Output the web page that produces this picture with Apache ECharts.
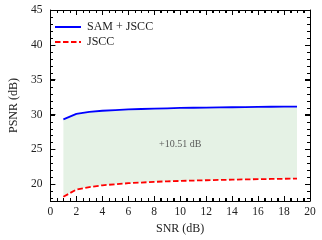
<!DOCTYPE html>
<html><head><meta charset="utf-8">
<script src="https://cdn.jsdelivr.net/npm/echarts@6/dist/echarts.min.js"></script>
<style>html,body{margin:0;padding:0;background:#fff}#c{width:322px;height:240px}</style>
</head><body><div id="c"></div>
<script>
const snr = [1,2,3,4,5,6,7,8,9,10,11,12,13,14,15,16,17,18,19];
const samJscc = [29.3,30.1,30.4,30.55,30.65,30.75,30.8,30.85,30.9,30.95,30.98,31.0,31.03,31.05,31.07,31.1,31.12,31.14,31.15];
const jscc = [18.2,19.25,19.6,19.85,20.0,20.15,20.25,20.35,20.42,20.48,20.53,20.58,20.62,20.66,20.7,20.73,20.76,20.79,20.82];
const seriesNames = ['SAM + JSCC','JSCC'];
const xMajorTicks = [0,2,4,6,8,10,12,14,16,18,20];
const xMinorTicks = [0.5,1,1.5,2.5,3,3.5,4.5,5,5.5,6.5,7,7.5,8.5,9,9.5,10.5,11,11.5,12.5,13,13.5,14.5,15,15.5,16.5,17,17.5,18.5,19,19.5];
const yMajorTicks = [20,25,30,35,40,45];
const yMinorTicks = [18,19,21,22,23,24,26,27,28,29,31,32,33,34,36,37,38,39,41,42,43,44];
const annotationText = '+10.51 dB';
const annotationX = 10;
const xRange = [0, 20];
const yRange = [17.6, 45];

const FONT = 'Liberation Serif';
const ink = '#222';
const samPts = snr.map((x,i)=>[x,samJscc[i]]);
const jsccPts = snr.map((x,i)=>[x,jscc[i]]);
const ai = snr.indexOf(annotationX);
const annY = (samJscc[ai]+jscc[ai])/2;

function xAx(pos, labels){
  return {type:'value', position:pos, min:xRange[0], max:xRange[1], interval:2,
    axisLine:{show:true, onZero:false, lineStyle:{color:'#000', width:1}},
    splitLine:{show:false},
    axisTick:{show:true, inside:true, length:5, lineStyle:{color:'#000', width:1}},
    minorTick:{show:true, splitNumber:4, length:3, lineStyle:{color:'#000', width:1}},
    axisLabel:{show:labels, fontFamily:FONT, fontSize:11.5, color:ink, margin:5},
    name: labels ? 'SNR (dB)' : '', nameLocation:'middle', nameGap:20,
    nameTextStyle:{fontFamily:FONT, fontSize:12, color:ink}};
}
function yAx(pos, labels){
  return {type:'value', position:pos, min:yRange[0], max:yRange[1],
    axisLine:{show:true, onZero:false, lineStyle:{color:'#000', width:1}},
    splitLine:{show:false},
    axisTick:{show:true, inside:true, length:5, customValues:yMajorTicks, lineStyle:{color:'#000', width:1}},
    minorTick:{show:false},
    axisLabel:{show:labels, customValues:yMajorTicks, fontFamily:FONT, fontSize:11.5, color:ink, margin:8},
    name: labels ? 'PSNR (dB)' : '', nameLocation:'middle', nameGap:27,
    nameTextStyle:{fontFamily:FONT, fontSize:12, color:ink}};
}
function tickLines(api){
  const ch = [];
  const vert = (p, dy) => { const x = Math.round(p[0]) + 0.5;
    ch.push({type:'line', shape:{x1:x, y1:Math.round(p[1]), x2:x, y2:Math.round(p[1])+dy}, style:{stroke:'#000', lineWidth:1}}); };
  const hor = (p, dx) => { const y = Math.round(p[1]) + 0.5;
    ch.push({type:'line', shape:{x1:Math.round(p[0]), y1:y, x2:Math.round(p[0])+dx, y2:y}, style:{stroke:'#000', lineWidth:1}}); };
  xMajorTicks.forEach(v=>{ vert(api.coord([v, yRange[0]]), -5); vert(api.coord([v, yRange[1]]), 5); });
  xMinorTicks.forEach(v=>{ vert(api.coord([v, yRange[0]]), -3); vert(api.coord([v, yRange[1]]), 3); });
  yMajorTicks.forEach(v=>{ hor(api.coord([xRange[0], v]), 5); hor(api.coord([xRange[1], v]), -5); });
  yMinorTicks.forEach(v=>{ hor(api.coord([xRange[0], v]), 3); hor(api.coord([xRange[1], v]), -3); });
  return {type:'group', children:ch};
}
const chart = echarts.init(document.getElementById('c'), null, {renderer:'canvas'});
chart.setOption({
  animation:false,
  grid:{left:39, right:12, top:10, bottom:39},
  xAxis:[xAx('bottom', true), xAx('top', false)],
  yAxis:[yAx('left', true), yAx('right', false)],
  legend:{show:true, orient:'vertical', left:49, top:16, itemWidth:26, itemHeight:14, itemGap:3,
    data:seriesNames, itemStyle:{opacity:0, color:'transparent', borderWidth:0},
    textStyle:{fontFamily:FONT, fontSize:12, color:ink, padding:[0,0,0,1]}},
  series:[
    {name:'band', type:'custom', data:samPts, z:1, silent:true, clip:true,
      renderItem:function(params, api){
        if (params.dataIndex !== 0) return null;
        const pts = samPts.map(p=>api.coord(p)).concat(jsccPts.slice().reverse().map(p=>api.coord(p)));
        return {type:'polygon', shape:{points:pts}, style:{fill:'rgba(0,128,0,0.1)', stroke:'none'}};
      }},
    {name:'ticks', type:'custom', data:[[5, 30]], z:5, silent:true, clip:false,
      renderItem:function(params, api){ return tickLines(api); }},
    {name:seriesNames[0], type:'line', data:samPts, symbol:'none', z:3, lineStyle:{color:'#0000ff', width:1.8}, itemStyle:{color:'#0000ff'}},
    {name:seriesNames[1], type:'line', data:jsccPts, symbol:'none', z:3, lineStyle:{color:'#ff0000', width:1.8, type:[5.5,2.5]}, itemStyle:{color:'#ff0000'}},
    {name:'ann', type:'scatter', data:[[annotationX, annY]], symbolSize:0, z:4,
      label:{show:true, position:'inside', formatter:annotationText, fontFamily:FONT, fontSize:10, color:'#333'}}
  ]
});
</script></body></html>
